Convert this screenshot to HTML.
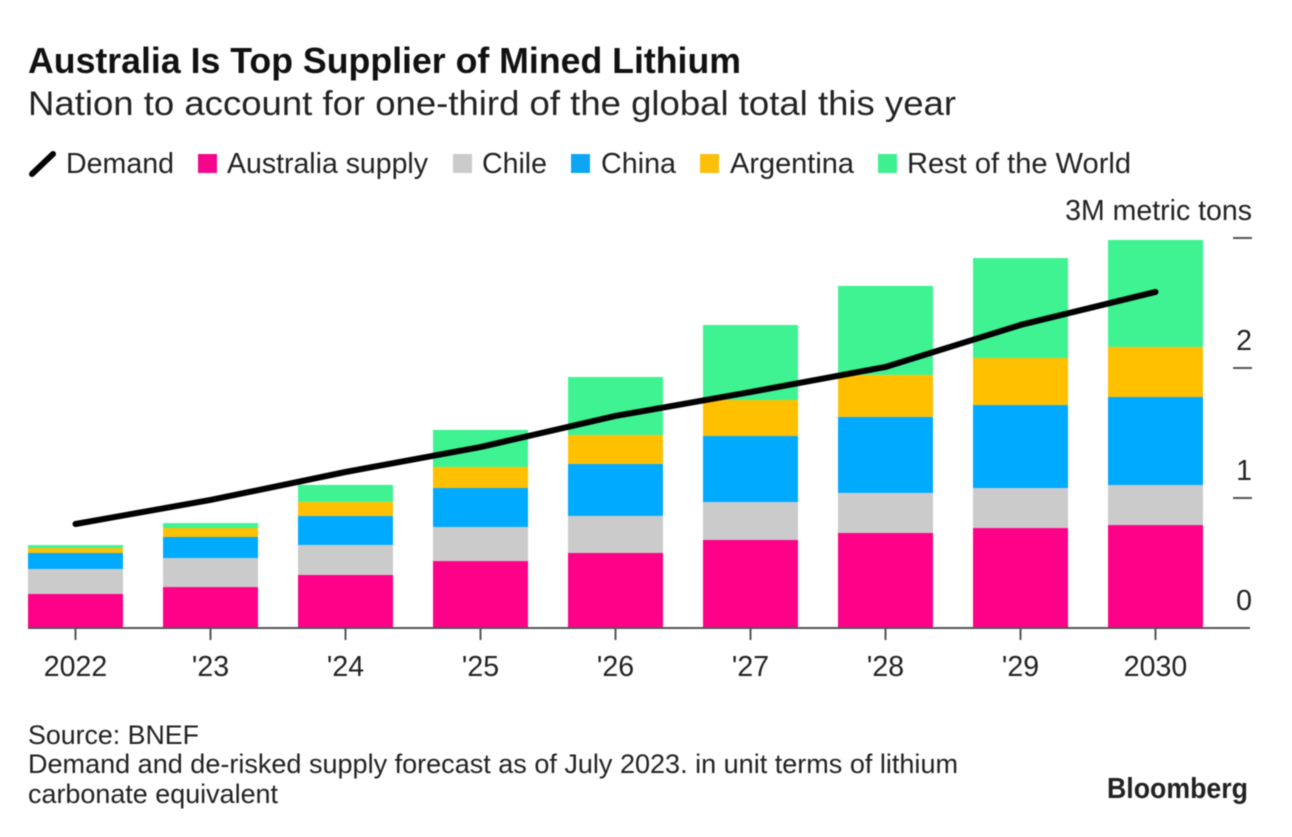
<!DOCTYPE html>
<html lang="en">
<head>
<meta charset="utf-8">
<title>Australia Is Top Supplier of Mined Lithium</title>
<style>
html,body{margin:0;padding:0;background:#fff;}
svg{display:block;filter:blur(0.45px);}
text{font-family:"Liberation Sans",sans-serif;fill:#222;}
</style>
</head>
<body>
<svg id="chart" width="1292" height="837" viewBox="0 0 1292 837" xmlns="http://www.w3.org/2000/svg">
  <rect width="1292" height="837" fill="#fff"/>
  <text x="28" y="73" font-size="36" font-weight="700" style="fill:#111" textLength="713" lengthAdjust="spacingAndGlyphs">Australia Is Top Supplier of Mined Lithium</text>
  <text x="28" y="115" font-size="34" textLength="928" lengthAdjust="spacingAndGlyphs">Nation to account for one-third of the global total this year</text>

  <g>
    <line x1="32" y1="174" x2="53" y2="154" stroke="#000" stroke-width="6" stroke-linecap="round"/>
    <text x="66" y="173" font-size="28.5" textLength="108" lengthAdjust="spacingAndGlyphs">Demand</text>
    <rect x="198" y="154" width="19" height="19" fill="#f5048c"/>
    <text x="227" y="173" font-size="28.5" textLength="201" lengthAdjust="spacingAndGlyphs">Australia supply</text>
    <rect x="453" y="154" width="19" height="19" fill="#cbcbcb"/>
    <text x="482" y="173" font-size="28.5" textLength="65" lengthAdjust="spacingAndGlyphs">Chile</text>
    <rect x="571" y="154" width="19" height="19" fill="#0ea5f2"/>
    <text x="601" y="173" font-size="28.5" textLength="75" lengthAdjust="spacingAndGlyphs">China</text>
    <rect x="700" y="154" width="19" height="19" fill="#fcbf0a"/>
    <text x="730" y="173" font-size="28.5" textLength="124" lengthAdjust="spacingAndGlyphs">Argentina</text>
    <rect x="878" y="154" width="19" height="19" fill="#3ef08f"/>
    <text x="907" y="173" font-size="28.5" textLength="224" lengthAdjust="spacingAndGlyphs">Rest of the World</text>
  </g>

  <g id="bars"></g>
  <g id="axes"></g>
  <path id="demand" fill="none" stroke="#000" stroke-width="6" stroke-linecap="round" stroke-linejoin="round"/>

  <text x="28" y="744" font-size="26.5" textLength="171" lengthAdjust="spacingAndGlyphs">Source: BNEF</text>
  <text x="28" y="773" font-size="26.5" textLength="930" lengthAdjust="spacingAndGlyphs">Demand and de-risked supply forecast as of July 2023. in unit terms of lithium</text>
  <text x="28" y="803" font-size="26.5" textLength="250" lengthAdjust="spacingAndGlyphs">carbonate equivalent</text>
  <text x="1107" y="798" font-size="29" font-weight="700" textLength="141" lengthAdjust="spacingAndGlyphs">Bloomberg</text>
</svg>
<script>
const categories = ["2022", "'23", "'24", "'25", "'26", "'27", "'28", "'29", "2030"];
const australia = [0.262, 0.315, 0.408, 0.515, 0.577, 0.677, 0.731, 0.769, 0.792];
const chile = [0.192, 0.223, 0.231, 0.262, 0.285, 0.292, 0.308, 0.308, 0.308];
const china = [0.123, 0.162, 0.223, 0.300, 0.400, 0.508, 0.585, 0.638, 0.677];
const argentina = [0.038, 0.069, 0.108, 0.162, 0.223, 0.277, 0.323, 0.362, 0.385];
const rest = [0.023, 0.038, 0.131, 0.285, 0.446, 0.577, 0.685, 0.769, 0.823];
const demand = [0.800, 0.985, 1.200, 1.392, 1.631, 1.815, 2.008, 2.331, 2.585];
const yTicks = [0, 1, 2, 3];
const yTickLabels = ["0", "1", "2", "3M metric tons"];

const seriesList = [
  { key: 'australia', values: australia, color: '#ff0088' },
  { key: 'chile', values: chile, color: '#cbcbcb' },
  { key: 'china', values: china, color: '#00aaff' },
  { key: 'argentina', values: argentina, color: '#ffc000' },
  { key: 'rest', values: rest, color: '#40f392' }
];

const NS = 'http://www.w3.org/2000/svg';
const yScale = function (v) { return 628 - v * 130; };
const xScale = function (i) { return 75.5 + i * 135; };
const BAR_W = 95;

const barsG = document.getElementById('bars');
const axesG = document.getElementById('axes');

categories.forEach(function (cat, i) {
  let base = 0;
  seriesList.forEach(function (s) {
    const v = s.values[i];
    const r = document.createElementNS(NS, 'rect');
    r.setAttribute('x', xScale(i) - BAR_W / 2);
    r.setAttribute('y', yScale(base + v));
    r.setAttribute('width', BAR_W);
    r.setAttribute('height', yScale(base) - yScale(base + v));
    r.setAttribute('fill', s.color);
    
    
    barsG.appendChild(r);
    base += v;
  });
});

const baseline = document.createElementNS(NS, 'line');
baseline.setAttribute('x1', 28);
baseline.setAttribute('x2', 1250);
baseline.setAttribute('y1', yScale(0));
baseline.setAttribute('y2', yScale(0));
baseline.setAttribute('stroke', '#555');
baseline.setAttribute('stroke-width', 2);


axesG.appendChild(baseline);

categories.forEach(function (cat, i) {
  const t = document.createElementNS(NS, 'line');
  t.setAttribute('x1', xScale(i));
  t.setAttribute('x2', xScale(i));
  t.setAttribute('y1', yScale(0));
  t.setAttribute('y2', yScale(0) + 12);
  t.setAttribute('stroke', '#555');
  t.setAttribute('stroke-width', 2);
  
  
  axesG.appendChild(t);

  const l = document.createElementNS(NS, 'text');
  l.setAttribute('x', xScale(i));
  l.setAttribute('y', 676);
  l.setAttribute('font-size', 28.5);
  l.setAttribute('text-anchor', 'middle');
  
  
  l.textContent = cat;
  axesG.appendChild(l);
});

yTicks.forEach(function (v, i) {
  if (v > 0) {
    const t = document.createElementNS(NS, 'line');
    t.setAttribute('x1', 1233);
    t.setAttribute('x2', 1252);
    t.setAttribute('y1', yScale(v));
    t.setAttribute('y2', yScale(v));
    t.setAttribute('stroke', '#555');
    t.setAttribute('stroke-width', 2);
    
    
    axesG.appendChild(t);
  }
  const l = document.createElementNS(NS, 'text');
  l.setAttribute('x', 1252);
  l.setAttribute('y', yScale(v) - 18);
  l.setAttribute('font-size', 28.5);
  l.setAttribute('text-anchor', 'end');
  
  
  l.textContent = yTickLabels[i];
  axesG.appendChild(l);
});

const demandPath = document.getElementById('demand');
demandPath.setAttribute('d', demand.map(function (v, i) {
  return (i ? 'L' : 'M') + xScale(i) + ' ' + yScale(v);
}).join(' '));
</script>
</body>
</html>
